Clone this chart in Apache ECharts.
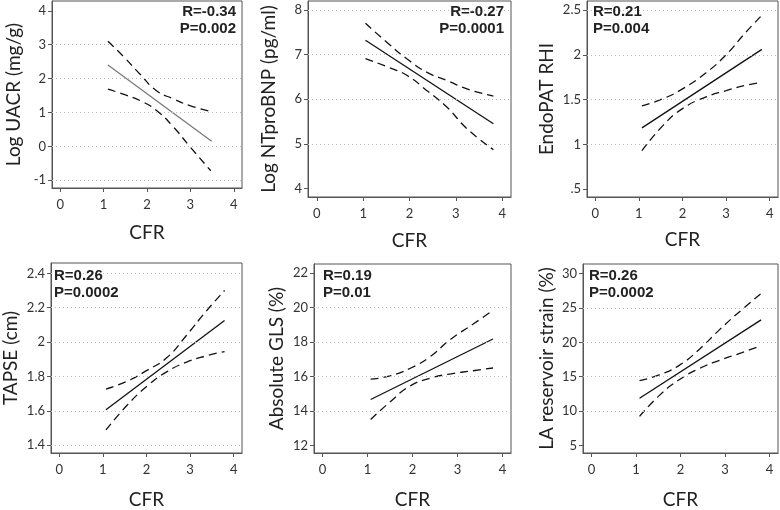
<!DOCTYPE html>
<html>
<head>
<meta charset="utf-8">
<script src="https://cdn.jsdelivr.net/npm/echarts@6/dist/echarts.min.js"></script>
<style>
  html, body { margin: 0; padding: 0; background: #fff; }
  #main { width: 780px; height: 510px; }
</style>
</head>
<body>
<div id="main"></div>
<script>
// CFR axis, shared by all panels
var cfrTicks = [0, 1, 2, 3, 4];

// Log UACR
var uacrFit   = [[1.1, 2.40], [3.49, 0.15]];
var uacrUpper = [[1.1, 3.10], [1.45, 2.66], [1.84, 2.13], [2.22, 1.64], [2.61, 1.40], [2.99, 1.20], [3.47, 1.03]];
var uacrLower = [[1.1, 1.69], [1.45, 1.54], [1.84, 1.35], [2.22, 1.06], [2.61, 0.57], [2.99, -0.01], [3.47, -0.72]];
var uacrTicks = [-1, 0, 1, 2, 3, 4];
var uacrGrid  = [-1, 0, 1, 2, 3];

// Log NTproBNP
var bnpFit   = [[1.05, 7.32], [3.81, 5.45]];
var bnpUpper = [[1.05, 7.70], [1.56, 7.23], [1.95, 6.90], [2.38, 6.60], [2.81, 6.42], [3.24, 6.23], [3.81, 6.07]];
var bnpLower = [[1.05, 6.91], [1.56, 6.71], [1.95, 6.53], [2.38, 6.19], [2.81, 5.82], [3.24, 5.34], [3.81, 4.87]];
var bnpTicks = [4, 5, 6, 7, 8];
var bnpGrid  = [5, 6, 7, 8];

// EndoPAT RHI
var rhiFit   = [[1.07, 1.185], [3.82, 2.06]];
var rhiUpper = [[1.07, 1.43], [1.55, 1.51], [2.0, 1.62], [2.54, 1.80], [3.0, 2.0], [3.45, 2.25], [3.82, 2.44]];
var rhiLower = [[1.07, 0.93], [1.55, 1.21], [2.0, 1.40], [2.54, 1.53], [3.0, 1.60], [3.45, 1.66], [3.82, 1.69]];
var rhiTicks = [0.5, 1, 1.5, 2, 2.5];
var rhiGrid  = [1, 1.5, 2, 2.5];

// TAPSE
var tapseFit   = [[1.07, 1.606], [3.79, 2.125]];
var tapseUpper = [[1.07, 1.727], [1.56, 1.773], [2.02, 1.837], [2.47, 1.91], [2.92, 2.04], [3.37, 2.18], [3.79, 2.30]];
var tapseLower = [[1.07, 1.489], [1.56, 1.634], [2.02, 1.745], [2.47, 1.828], [2.92, 1.884], [3.37, 1.92], [3.79, 1.945]];
var tapseTicks = [1.4, 1.6, 1.8, 2, 2.2, 2.4];
var tapseGrid  = [1.4, 1.6, 1.8, 2, 2.2, 2.4];

// Absolute GLS
var glsFit   = [[1.07, 14.66], [3.79, 18.17]];
var glsUpper = [[1.07, 15.84], [1.50, 16.03], [1.94, 16.46], [2.39, 17.14], [2.83, 18.12], [3.35, 19.04], [3.78, 19.82]];
var glsLower = [[1.07, 13.50], [1.50, 14.52], [1.94, 15.44], [2.39, 15.90], [2.83, 16.14], [3.35, 16.33], [3.79, 16.49]];
var glsTicks = [12, 14, 16, 18, 20, 22];
var glsGrid  = [14, 16, 18, 20];

// LA reservoir strain
var laFit   = [[1.08, 11.86], [3.81, 23.27]];
var laUpper = [[1.08, 14.42], [1.52, 15.25], [1.97, 16.64], [2.42, 18.96], [2.86, 21.74], [3.38, 24.76], [3.81, 27.08]];
var laLower = [[1.08, 9.22], [1.52, 12.24], [1.97, 14.55], [2.42, 16.18], [2.86, 17.34], [3.38, 18.5], [3.81, 19.52]];
var laTicks = [5, 10, 15, 20, 25, 30];
var laGrid  = [10, 15, 20, 25];

var panels = [
    {ytitle: 'Log UACR (mg/g)', stat: 'R=-0.34\nP=0.002', fit: uacrFit, upper: uacrUpper, lower: uacrLower,
     ticks: uacrTicks, grid: uacrGrid, ymin: -1.23, ymax: 4.29, fitColor: '#7a7a7a',
     box: {left: 52, top: 1, width: 190, height: 187}, nameGap: 29, xGap: 35, statPos: [236, 3, 'right']},
    {ytitle: 'Log NTproBNP (pg/ml)', stat: 'R=-0.27\nP=0.0001', fit: bnpFit, upper: bnpUpper, lower: bnpLower,
     ticks: bnpTicks, grid: bnpGrid, ymin: 3.81, ymax: 8.2, fitColor: '#111',
     box: {left: 308, top: 1, width: 203, height: 196}, nameGap: 30, xGap: 34, statPos: [504, 3, 'right']},
    {ytitle: 'EndoPAT RHI', stat: 'R=0.21\nP=0.004', fit: rhiFit, upper: rhiUpper, lower: rhiLower,
     ticks: rhiTicks, grid: rhiGrid, ymin: 0.414, ymax: 2.6, fitColor: '#111',
     box: {left: 587, top: 1, width: 191, height: 196}, nameGap: 31, xGap: 33, statPos: [593, 3, 'left']},
    {ytitle: 'TAPSE (cm)', stat: 'R=0.26\nP=0.0002', fit: tapseFit, upper: tapseUpper, lower: tapseLower,
     ticks: tapseTicks, grid: tapseGrid, ymin: 1.355, ymax: 2.46, fitColor: '#111',
     box: {left: 49, top: 263, width: 193, height: 199}, nameGap: 31, xGap: 37, statPos: [54, 267, 'left']},
    {ytitle: 'Absolute GLS (%)', stat: 'R=0.19\nP=0.01', fit: glsFit, upper: glsUpper, lower: glsLower,
     ticks: glsTicks, grid: glsGrid, ymin: 11.56, ymax: 22.52, fitColor: '#111',
     box: {left: 314, top: 264, width: 197, height: 198}, nameGap: 28, xGap: 37, statPos: [323, 267, 'left']},
    {ytitle: 'LA reservoir strain (%)', stat: 'R=0.26\nP=0.0002', fit: laFit, upper: laUpper, lower: laLower,
     ticks: laTicks, grid: laGrid, ymin: 3.89, ymax: 31.4, fitColor: '#111',
     box: {left: 583, top: 264, width: 195, height: 198}, nameGap: 27, xGap: 37, statPos: [589, 267, 'left']}
];

var labelFont = 'Lato, "Open Sans", sans-serif';
var grids = [], xAxes = [], yAxes = [], series = [], graphics = [];

panels.forEach(function (p, i) {
    grids.push({
        left: p.box.left, top: p.box.top, width: p.box.width, height: p.box.height,
        show: true, borderColor: '#555', borderWidth: 1, backgroundColor: '#fff'
    });
    xAxes.push({
        gridIndex: i, type: 'value', min: -0.19, max: 4.19,
        name: 'CFR', nameLocation: 'middle', nameGap: p.xGap,
        nameTextStyle: {fontFamily: labelFont, fontSize: 19, color: '#222'},
        axisLine: {show: true, onZero: false, lineStyle: {color: '#555'}},
        axisTick: {show: true, length: 4, customValues: cfrTicks, lineStyle: {color: '#555'}},
        axisLabel: {customValues: cfrTicks, margin: 10, fontFamily: labelFont, fontSize: 13, color: '#333'},
        splitLine: {show: false}
    });
    yAxes.push({
        gridIndex: i, type: 'value', min: p.ymin, max: p.ymax,
        name: p.ytitle, nameLocation: 'middle', nameGap: p.nameGap, nameRotate: 90,
        nameTextStyle: {fontFamily: labelFont, fontSize: 19, color: '#222'},
        axisLine: {show: true, onZero: false, lineStyle: {color: '#555'}},
        axisTick: {show: true, length: 4, customValues: p.ticks, lineStyle: {color: '#555'}},
        axisLabel: {
            customValues: p.ticks, margin: 6, fontFamily: labelFont, fontSize: 13, color: '#333',
            formatter: function (v) { return v === 0.5 ? '.5' : String(v); }
        },
        splitLine: {show: false}
    });
    series.push({
        type: 'line', xAxisIndex: i, yAxisIndex: i, data: [], silent: true, z: 1,
        markLine: {
            silent: true, symbol: 'none', label: {show: false},
            lineStyle: {type: [1, 3], color: '#bbb', width: 1},
            data: p.grid.map(function (v) { return {yAxis: v}; })
        }
    });
    series.push({
        type: 'line', xAxisIndex: i, yAxisIndex: i, data: p.fit, showSymbol: false, z: 3,
        lineStyle: {color: p.fitColor, width: 1.3}
    });
    [p.upper, p.lower].forEach(function (ci) {
        series.push({
            type: 'line', xAxisIndex: i, yAxisIndex: i, data: ci, showSymbol: false, smooth: 0.5, z: 3,
            lineStyle: {color: '#111', width: 1.3, type: [8, 5]}
        });
    });
    graphics.push({
        type: 'text', x: p.statPos[0], y: p.statPos[1], z: 10,
        style: {
            text: p.stat, textAlign: p.statPos[2], textVerticalAlign: 'top',
            font: 'bold 15px "Liberation Sans", Arial, sans-serif', fill: '#222', lineHeight: 17
        }
    });
});

var option = {
    animation: false,
    backgroundColor: '#fff',
    grid: grids,
    xAxis: xAxes,
    yAxis: yAxes,
    series: series,
    graphic: graphics
};

var chart = echarts.init(document.getElementById('main'));
chart.setOption(option);
</script>
</body>
</html>
